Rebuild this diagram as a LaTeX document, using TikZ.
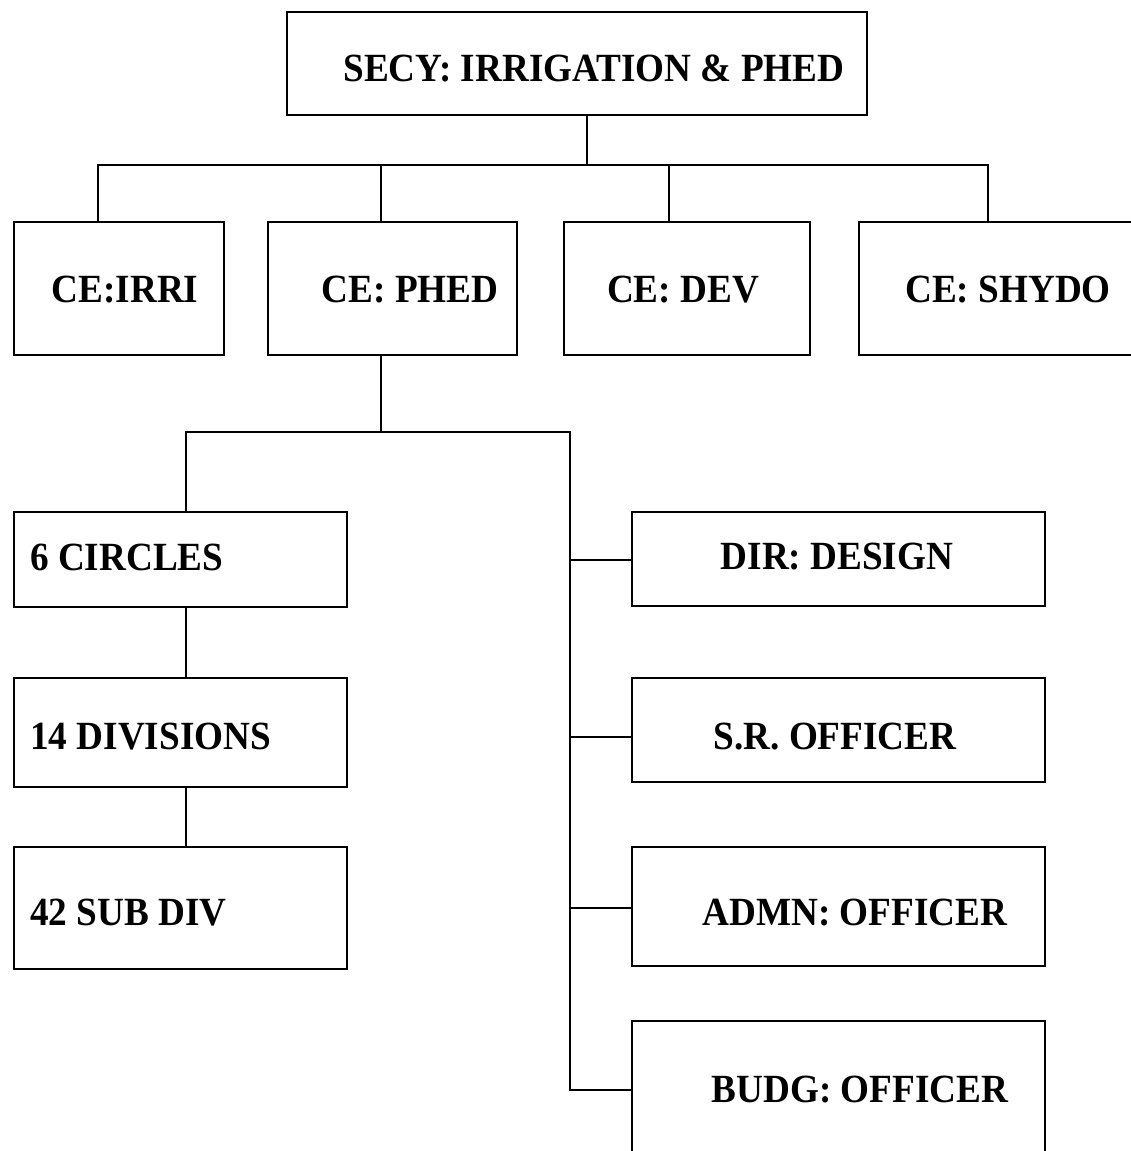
\documentclass[tikz,border=0pt]{standalone}
\usepackage{fontspec}
\setmainfont{Liberation Serif}[FakeStretch=0.93]
\begin{document}
\begin{tikzpicture}[x=1pt,y=-1pt,
  box/.style={draw, line width=2.2pt, rectangle, inner sep=0pt},
  lbl/.style={font=\fontsize{40}{44}\selectfont\bfseries, inner sep=0pt},
  wire/.style={line width=2pt, line cap=rect}]
\useasboundingbox[fill=white] (0,0) rectangle (1130,1151);

% boxes
\node[box, minimum width=580pt, minimum height=103pt] (secy) at (577,63.5) {};
\node[box, minimum width=210pt, minimum height=133pt] (irri) at (119,288.5) {};
\node[box, minimum width=249pt, minimum height=133pt] (phed) at (392.5,288.5) {};
\node[box, minimum width=246pt, minimum height=133pt] (dev) at (687,288.5) {};
\node[box, minimum width=276pt, minimum height=133pt] (shydo) at (997,288.5) {};
\node[box, minimum width=333pt, minimum height=95pt] (circles) at (180.5,559.5) {};
\node[box, minimum width=333pt, minimum height=109pt] (divs) at (180.5,732.5) {};
\node[box, minimum width=333pt, minimum height=122pt] (subdiv) at (180.5,908) {};
\node[box, minimum width=413pt, minimum height=94pt] (design) at (838.5,559) {};
\node[box, minimum width=413pt, minimum height=104pt] (sro) at (838.5,730) {};
\node[box, minimum width=413pt, minimum height=119pt] (admn) at (838.5,906.5) {};
\node[box, minimum width=413pt, minimum height=139pt] (budg) at (838.5,1090.5) {};

% labels
\node[lbl] (tsecy) at (594,68) {SECY: IRRIGATION \& PHED};
\node[lbl] (tirri) at (125,290) {CE:IRRI};
\node[lbl] (tphed) at (410,290) {CE: PHED};
\node[lbl] (tdev) at (683,290) {CE: DEV};
\node[lbl] (tshydo) at (1008,290) {CE: SHYDO};
\node[lbl, anchor=west] (tcircles) at (30,557) {6 CIRCLES};
\node[lbl, anchor=west] (tdivs) at (30,737) {14 DIVISIONS};
\node[lbl, anchor=west] (tsubdiv) at (30,913) {42 SUB DIV};
\node[lbl] (tdesign) at (837,557) {DIR: DESIGN};
\node[lbl] (tsro) at (835,737) {S.R. OFFICER};
\node[lbl] (tadmn) at (855,913) {ADMN: OFFICER};
\node[lbl] (tbudg) at (860,1090) {BUDG: OFFICER};

% top bus
\coordinate (top) at (587,165);
\coordinate (b1) at (98,165);
\coordinate (b2) at (381,165);
\coordinate (b3) at (669,165);
\coordinate (b4) at (988,165);
\draw[wire] (top |- secy.south) -- (top);
\draw[wire] (b1) -- (b4);
\draw[wire] (b1) -- (b1 |- irri.north);
\draw[wire] (b2) -- (b2 |- phed.north);
\draw[wire] (b3) -- (b3 |- dev.north);
\draw[wire] (b4) -- (b4 |- shydo.north);

% PHED branches
\coordinate (m) at (381,432);
\coordinate (l) at (186,432);
\coordinate (r) at (570,432);
\draw[wire] (m |- phed.south) -- (m);
\draw[wire] (l) -- (r);
\draw[wire] (l) -- (l |- circles.north);
\draw[wire] (l |- circles.south) -- (l |- divs.north);
\draw[wire] (l |- divs.south) -- (l |- subdiv.north);

\coordinate (k1) at (570,560);
\coordinate (k2) at (570,737);
\coordinate (k3) at (570,908);
\coordinate (k4) at (570,1090);
\draw[wire] (r) -- (k4);
\draw[wire] (k1) -- (k1 -| design.west);
\draw[wire] (k2) -- (k2 -| sro.west);
\draw[wire] (k3) -- (k3 -| admn.west);
\draw[wire] (k4) -- (k4 -| budg.west);
\end{tikzpicture}
\end{document}
